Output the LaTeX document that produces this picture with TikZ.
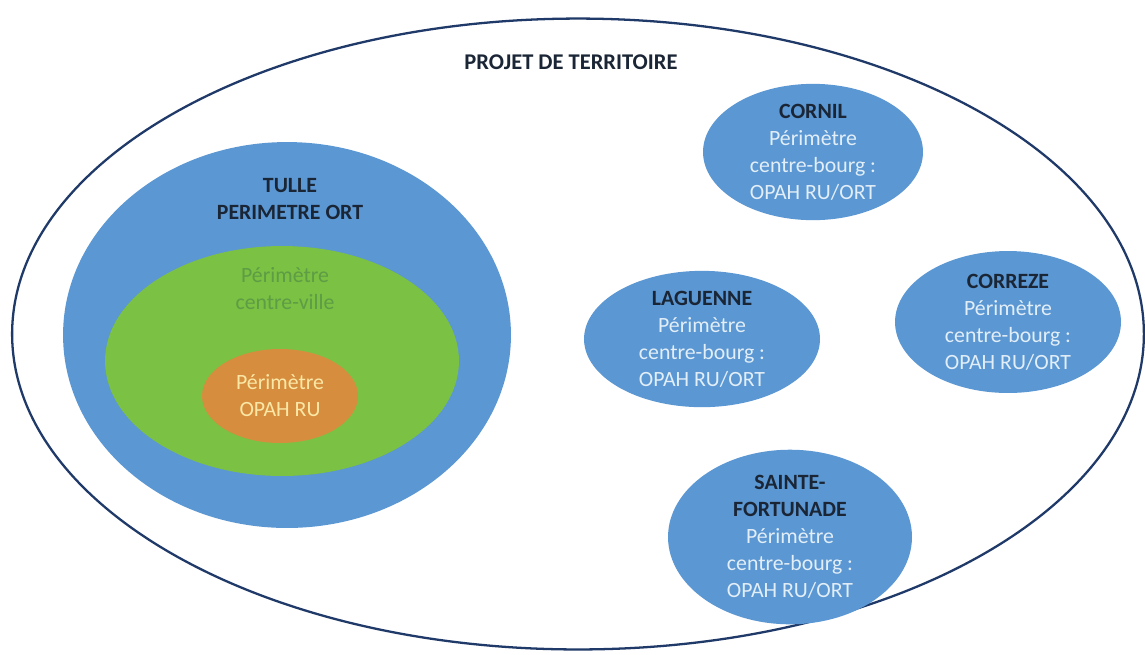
\documentclass[tikz,border=0pt]{standalone}
\usepackage{fontspec}
\setmainfont{Carlito}
\usetikzlibrary{shapes.geometric}
\definecolor{bblue}{HTML}{5B97D2}
\definecolor{ggreen}{HTML}{7BC143}
\definecolor{oorange}{HTML}{D68E3E}
\definecolor{navy}{HTML}{1F3A68}
\definecolor{lighttxt}{HTML}{E2EEF8}
\definecolor{greentxt}{HTML}{5E9C45}
\definecolor{orangetxt}{HTML}{FBE7A6}
\definecolor{nametxt}{HTML}{1A2535}
\tikzset{
  zone/.style={ellipse, inner sep=0pt, align=center, font=\fontsize{12.4}{15.4}\selectfont},
  bluezone/.style={zone, fill=bblue, text=lighttxt}
}
\newcommand{\nm}[1]{{\bfseries\color{nametxt}#1}}
\begin{document}
\begin{tikzpicture}[x=0.02cm,y=-0.02cm]
\useasboundingbox (0,0) rectangle (1145,654);
\fill[white] (0,0) rectangle (1145,654);
% outer territory
\node[ellipse, draw=navy, line width=1.3pt, inner sep=0pt,
      minimum width=22.64cm, minimum height=12.62cm] (terr) at (578,334) {};
\node[font=\fontsize{12.8}{14}\selectfont\bfseries, text=nametxt] (title) at (571,62) {PROJET DE TERRITOIRE};
% Tulle
\node[zone, fill=bblue, minimum width=8.96cm, minimum height=7.72cm] (tulle) at (287,335) {};
\node[zone, text=nametxt] (tulletxt) at (290,199) {\bfseries TULLE\\\bfseries PERIMETRE ORT};
\node[zone, fill=ggreen, minimum width=7.08cm, minimum height=4.6cm] (ville) at (282,361) {};
\node[zone, text=greentxt] (villetxt) at (285,289) {Périmètre\\centre-ville};
\node[zone, fill=oorange, text=orangetxt, minimum width=3.12cm, minimum height=1.88cm] (opah) at (280,396) {Périmètre\\OPAH RU};
% communes
\node[bluezone, minimum width=4.4cm, minimum height=2.48cm] (cornil) at (813,152)
  {\nm{CORNIL}\\Périmètre\\centre-bourg :\\OPAH RU/ORT};
\node[bluezone, minimum width=4.72cm, minimum height=2.48cm] (laguenne) at (702,339)
  {\nm{LAGUENNE}\\Périmètre\\centre-bourg :\\OPAH RU/ORT};
\node[bluezone, minimum width=4.52cm, minimum height=2.84cm] (correze) at (1008,322)
  {\nm{CORREZE}\\Périmètre\\centre-bourg :\\OPAH RU/ORT};
\node[bluezone, minimum width=4.88cm, minimum height=2.76cm] (sainte) at (790,537)
  {\nm{SAINTE-}\\\nm{FORTUNADE}\\Périmètre\\centre-bourg :\\OPAH RU/ORT};
\end{tikzpicture}
\end{document}
